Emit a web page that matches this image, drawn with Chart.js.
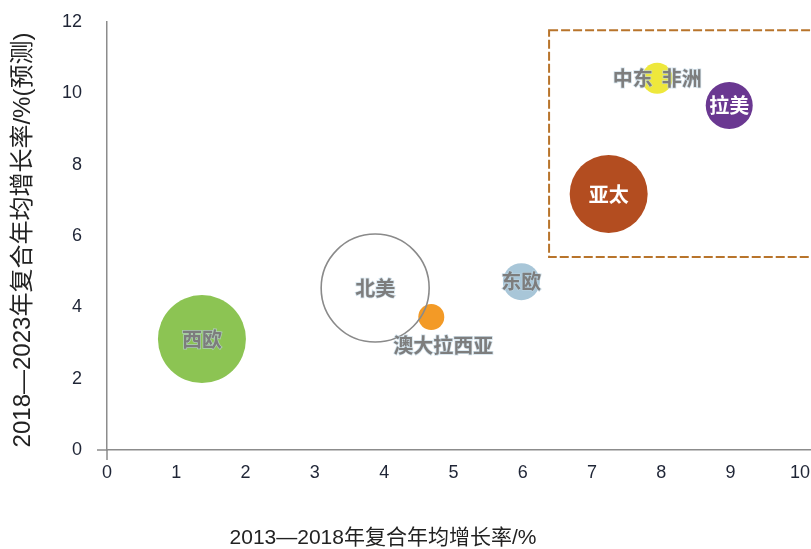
<!DOCTYPE html>
<html>
<head>
<meta charset="utf-8">
<script src="https://cdn.jsdelivr.net/npm/chart.js@4.4.0/dist/chart.umd.min.js"></script>
<style>
html,body{margin:0;padding:0;background:#fff;}
#wrap{width:811px;height:549px;}
</style>
</head>
<body>
<div id="wrap"><canvas id="c" width="811" height="549"></canvas></div>
<script>
// ---- data ----
const regions = ['西欧', '澳大拉西亚', '北美', '东欧', '亚太', '中东 非洲', '拉美'];
const growth2013to2018 = [1.37, 4.68, 3.87, 5.98, 7.24, 7.94, 8.98];
const growth2018to2023 = [3.11, 3.73, 4.54, 4.72, 7.18, 10.42, 9.66];
const bubbleSize = [44, 13, 54, 18.5, 39, 15.5, 23.5];
const xTickValues = [0, 1, 2, 3, 4, 5, 6, 7, 8, 9, 10];
const yTickValues = [0, 2, 4, 6, 8, 10, 12];
const xAxisTitle = '2013—2018年复合年均增长率/%';
const yAxisTitle = '2018—2023年复合年均增长率/%(预测)';
// highlighted region (data units)
const boxXMin = 6.38, boxXMax = 10.6, boxYMin = 5.41, boxYMax = 11.77;

// ---- styles ----
const fillColors = ['#8CC453', '#F39A26', 'rgba(255,255,255,0)', '#A8C6D8', '#B34D20', '#EEE83C', '#6A3891'];
const borderColors = ['#8CC453', '#F39A26', '#8a8a8a', '#A8C6D8', '#B34D20', '#EEE83C', '#6A3891'];
const borderWidths = [0, 0, 1.6, 0, 0, 0, 0];
const labelColors = ['#7d7d7d', '#7d7d7d', '#7d7d7d', '#7d7d7d', '#ffffff', '#7d7d7d', '#ffffff'];
const labelOffsets = [[0,0],[12,28],[0,0],[0,0],[0,0],[0,0],[0,0]];

const tickFont = {family: '"Liberation Sans", Arial, sans-serif', size: 18};
const tickColor = '#1f2536';
const axisColor = '#8c8c8c';

const points = regions.map((r, i) => ({x: growth2013to2018[i], y: growth2018to2023[i], r: bubbleSize[i]}));

const decorPlugin = {
  id: 'decor',
  beforeDatasetsDraw(chart) {
    const {ctx, scales: {x, y}} = chart;
    ctx.save();
    ctx.strokeStyle = '#B8742B';
    ctx.lineWidth = 2;
    ctx.setLineDash([9, 3]);
    const x0 = x.getPixelForValue(boxXMin), x1 = x.getPixelForValue(boxXMax);
    const y0 = y.getPixelForValue(boxYMax), y1 = y.getPixelForValue(boxYMin);
    ctx.strokeRect(x0, y0, x1 - x0, y1 - y0);
    ctx.setLineDash([]);
    ctx.strokeStyle = axisColor;
    ctx.lineWidth = 1.5;
    const ox = x.getPixelForValue(0), oy = y.getPixelForValue(0);
    ctx.beginPath();
    ctx.moveTo(ox - 10, oy); ctx.lineTo(ox, oy);
    ctx.moveTo(ox, oy); ctx.lineTo(ox, oy + 10);
    ctx.stroke();
    ctx.restore();
  },
  afterDatasetsDraw(chart) {
    const {ctx, scales: {x, y}} = chart;
    ctx.save();
    ctx.textAlign = 'center';
    ctx.textBaseline = 'middle';
    ctx.font = 'bold 20px "Noto Sans CJK SC", sans-serif';
    points.forEach((p, i) => {
      const px = x.getPixelForValue(p.x) + labelOffsets[i][0];
      const py = y.getPixelForValue(p.y) + labelOffsets[i][1];
      const txt = regions[i] === '中东 非洲' ? '中东  非洲' : regions[i];
      if (labelColors[i] !== '#ffffff') {
        ctx.strokeStyle = 'rgba(190,212,226,0.7)';
        ctx.lineWidth = 1.5;
        ctx.strokeText(txt, px, py);
      }
      ctx.fillStyle = labelColors[i];
      ctx.fillText(txt, px, py);
    });
    ctx.fillStyle = '#222';
    ctx.font = '21px "Liberation Sans", "Noto Sans CJK SC", sans-serif';
    ctx.textBaseline = 'middle';
    ctx.fillText(xAxisTitle, 383, 538);
    ctx.save();
    ctx.translate(23, 240);
    ctx.rotate(-Math.PI / 2);
    ctx.font = '24px "Liberation Sans", "Noto Sans CJK SC", sans-serif';
    ctx.fillText(yAxisTitle, 0, 0);
    ctx.restore();
    ctx.restore();
  }
};

new Chart(document.getElementById('c'), {
  type: 'bubble',
  data: {
    datasets: [{
      data: points,
      backgroundColor: fillColors,
      borderColor: borderColors,
      borderWidth: borderWidths,
      hoverRadius: 0,
      clip: false
    }]
  },
  options: {
    responsive: false,
    animation: false,
    events: [],
    layout: {autoPadding: false, padding: {top: 22, right: 0, left: 0, bottom: 0}},
    plugins: {legend: {display: false}, tooltip: {enabled: false}},
    scales: {
      x: {
        type: 'linear',
        min: 0,
        max: 10.16,
        afterBuildTicks: s => { s.ticks = xTickValues.map(v => ({value: v})); },
        afterFit: s => { s.height = 99; s.paddingLeft = 0; s.paddingRight = 0; s.paddingTop = 0; s.paddingBottom = 0; },
        grid: {display: false, drawTicks: false},
        border: {display: true, color: axisColor, width: 1.5},
        ticks: {font: tickFont, color: tickColor, padding: 12, maxRotation: 0, autoSkip: false}
      },
      y: {
        type: 'linear',
        min: 0,
        max: 12,
        afterBuildTicks: s => { s.ticks = yTickValues.map(v => ({value: v})); },
        afterFit: s => { s.width = 107; s.paddingLeft = 0; s.paddingRight = 0; s.paddingTop = 0; s.paddingBottom = 0; },
        grid: {display: false, drawTicks: false},
        border: {display: true, color: axisColor, width: 1.5},
        ticks: {font: tickFont, color: tickColor, padding: 25}
      }
    }
  },
  plugins: [decorPlugin]
});
</script>
</body>
</html>
